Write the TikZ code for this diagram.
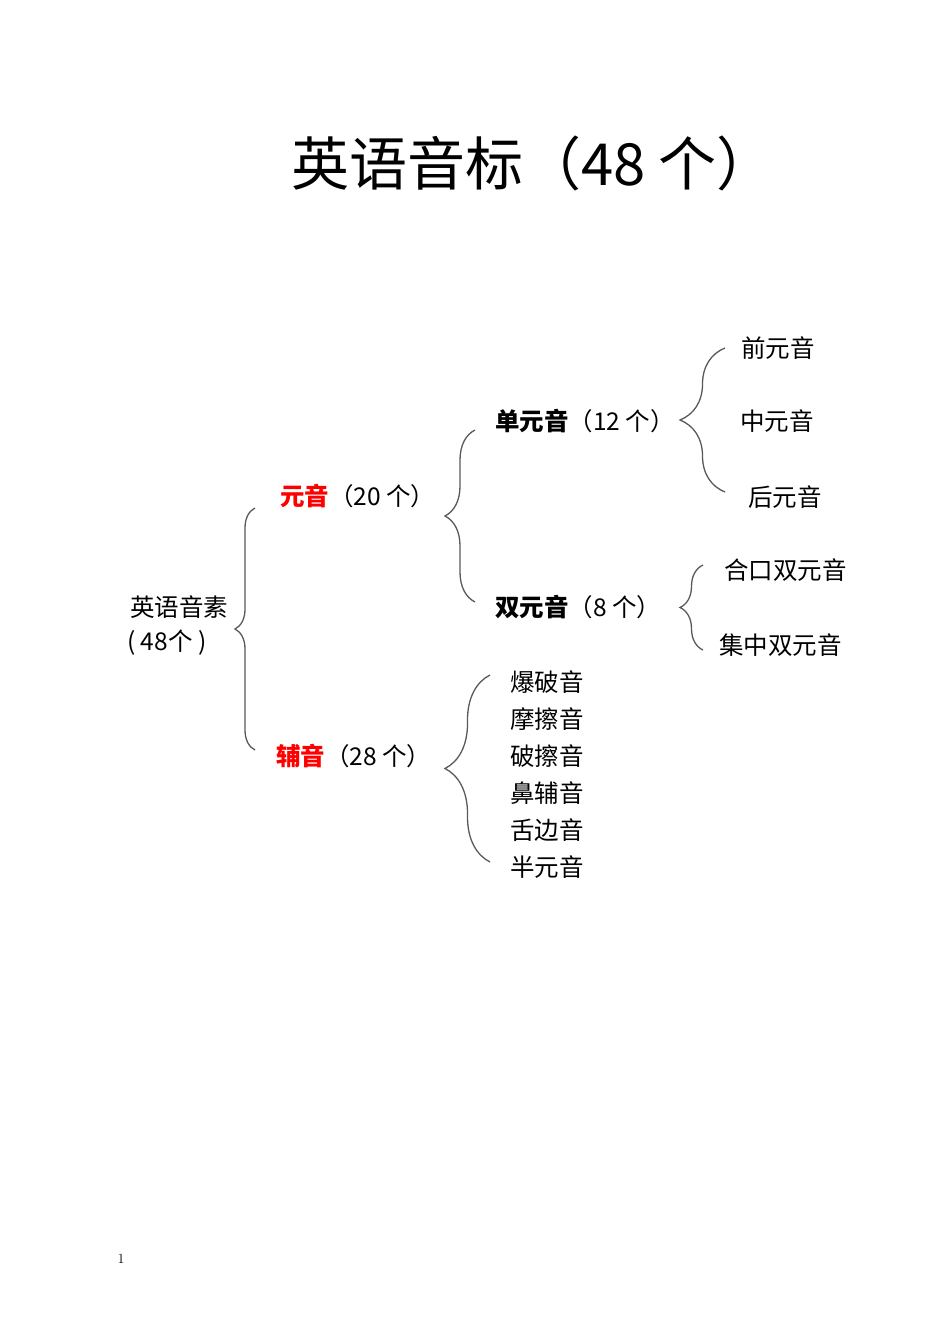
\documentclass[tikz,border=0pt]{standalone}
\usepackage{fontspec}
\newfontfamily\cjk{Noto Sans CJK SC}
\usetikzlibrary{
    positioning,
    decorations.pathreplacing
}
\usepackage{xcolor}

\begin{document}
\begin{tikzpicture}[
        x=1pt, y=1pt,
        txt/.style={
            anchor=west,
            inner sep=0pt,
            font=\cjk\fontsize{24.5}{28}\selectfont
        },
        curly/.style={
            decorate,
            decoration={brace, amplitude=#1},
            draw=black!65,
            line width=1.3pt
        }
    ]
        \useasboundingbox (0,0) rectangle (950,-1344);
        \node[anchor=west, inner sep=0pt, font=\cjk\fontsize{58}{62}\selectfont] (title) at (291,-163) {英语音标（48 个）};

        % root
        \node[txt] (root) at (130,-607) {英语音素};
        \node[txt] (rootn) at (127,-643) {( 48个 )};

        % vowels / consonants
        \node[txt] (vow) at (280,-496) {{\bfseries\color{red}元音}（20 个）};
        \node[txt] (con) at (276,-756) {{\bfseries\color{red}辅音}（28 个）};
        \node[txt] (mono) at (495,-421) {{\bfseries 单元音}（12 个）};
        \node[txt] (diph) at (495,-607) {{\bfseries 双元音}（8 个）};

        \node[txt] (front) at (741,-348) {前元音};
        \node[txt] (central) at (740,-421) {中元音};
        \node[txt] (back) at (748,-497) {后元音};
        \node[txt] (closing) at (724,-570) {合口双元音};
        \node[txt] (centring) at (719,-645) {集中双元音};

        \foreach \name/\word [count=\i from 0] in
            {plos/爆破音, fric/摩擦音, affr/破擦音, nasal/鼻辅音, lat/舌边音, semi/半元音}
            \node[txt] (\name) at (510,-682-37*\i) {\word};

        % braces
        \coordinate (r1) at (255,-750);
        \coordinate (r2) at (255,-508);
        \coordinate (v1) at (475,-602);
        \coordinate (v2) at (475,-430);
        \coordinate (m1) at (725,-492);
        \coordinate (m2) at (725,-348);
        \coordinate (d1) at (703,-650);
        \coordinate (d2) at (703,-565);
        \coordinate (c1) at (490,-862);
        \coordinate (c2) at (490,-675);
        \draw[curly=20] (r1) -- (r2);
        \draw[curly=30] (v1) -- (v2);
        \draw[curly=45] (m1) -- (m2);
        \draw[curly=23] (d1) -- (d2);
        \draw[curly=45] (c1) -- (c2);

        \node[font=\fontsize{14}{16}\selectfont] (page) at (121,-1259) {1};
    \end{tikzpicture}
\end{document}
